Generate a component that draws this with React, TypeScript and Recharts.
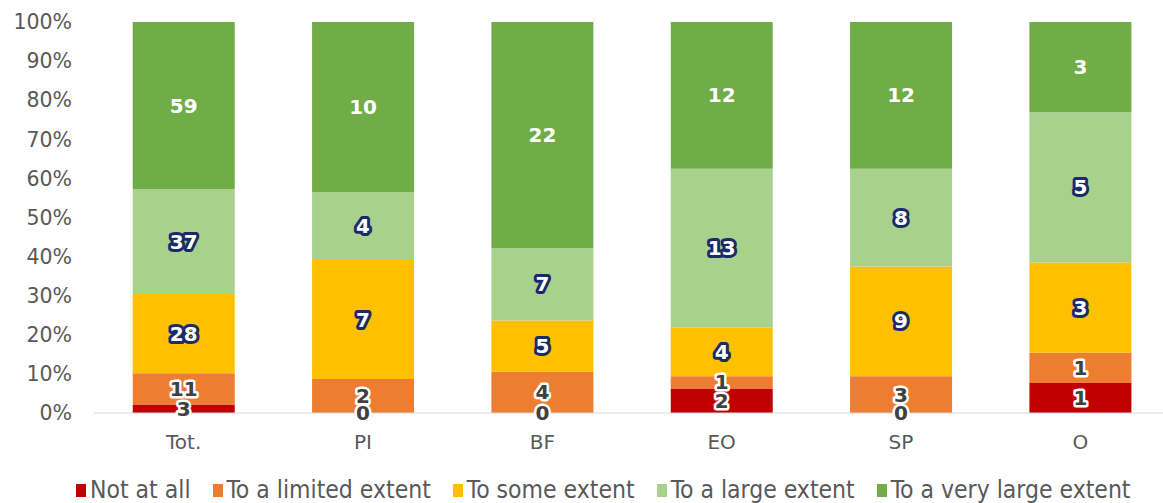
import React from "react";
import { Bar, BarChart, Cell, LabelList, XAxis, YAxis } from "recharts";

const categories = ["Tot.", "PI", "BF", "EO", "SP", "O"];
const notAtAll = [3, 0, 0, 2, 0, 1];
const limitedExtent = [11, 2, 4, 1, 3, 1];
const someExtent = [28, 7, 5, 4, 9, 3];
const largeExtent = [37, 4, 7, 13, 8, 5];
const veryLargeExtent = [59, 10, 22, 12, 12, 3];
const yTicks = [0, 0.1, 0.2, 0.3, 0.4, 0.5, 0.6, 0.7, 0.8, 0.9, 1];

const series = [
  { key: "notAtAll", name: "Not at all", values: notAtAll, color: "#C00000", label: "grey" },
  { key: "limited", name: "To a limited extent", values: limitedExtent, color: "#ED7D31", label: "grey" },
  { key: "some", name: "To some extent", values: someExtent, color: "#FFC000", label: "navy" },
  { key: "large", name: "To a large extent", values: largeExtent, color: "#A9D18E", label: "navy" },
  { key: "veryLarge", name: "To a very large extent", values: veryLargeExtent, color: "#70AD47", label: "plain" },
];

const data = categories.map((c, i) => {
  const row: Record<string, string | number> = { category: c };
  series.forEach((s) => {
    row[s.key] = s.values[i];
  });
  return row;
});

const labelStyles: Record<string, { fill: string; stroke: string; strokeWidth: number }> = {
  grey: { fill: "#404040", stroke: "#ffffff", strokeWidth: 5 },
  navy: { fill: "#ffffff", stroke: "#1A2B66", strokeWidth: 6 },
  plain: { fill: "#ffffff", stroke: "none", strokeWidth: 0 },
};

const makeLabel = (kind: string) => (props: any) => {
  const { x, y, width, height, value } = props;
  const st = labelStyles[kind];
  return (
    <text
      x={Number(x) + Number(width) / 2}
      y={Number(y) + Number(height) / 2}
      textAnchor="middle"
      dominantBaseline="central"
      fontFamily="DejaVu Sans"
      fontWeight="bold"
      fontSize={20}
      fill={st.fill}
      stroke={st.stroke}
      strokeWidth={st.strokeWidth}
      strokeLinejoin="round"
      paintOrder="stroke"
    >
      {value}
    </text>
  );
};

// zero segments still need their "0" label, so give them a hairline, invisible bar
const zeroSize = (value: any) => (Number(Array.isArray(value) ? value[1] - value[0] : value) === 0 ? 1 : 0);

export default function App() {
  return (
    <div
      style={{
        position: "fixed",
        left: 0,
        top: 0,
        width: 1163,
        height: 503,
        overflow: "hidden",
        background: "#fff",
      }}
    >
      <BarChart
        width={1180}
        height={503}
        data={data}
        stackOffset="expand"
        barCategoryGap="21.6%"
        margin={{ top: 22, right: 10, left: 0, bottom: 60 }}
      >
        <XAxis
          dataKey="category"
          height={30}
          tickLine={false}
          axisLine={{ stroke: "#D9D9D9" }}
          tick={{ fill: "#595959", fontSize: 20, fontFamily: "DejaVu Sans" }}
          tickMargin={16}
        />
        <YAxis
          width={94}
          domain={[0, 1]}
          ticks={yTicks}
          axisLine={false}
          tickLine={false}
          tickMargin={16}
          tickFormatter={(v: number) => `${Math.round(v * 100)}%`}
          tick={{ fill: "#595959", fontSize: 20.5, fontFamily: "DejaVu Sans" }}
        />
        {series.map((s) => (
          <Bar
            key={s.key}
            dataKey={s.key}
            name={s.name}
            stackId="a"
            fill={s.color}
            minPointSize={zeroSize}
            isAnimationActive={false}
          >
            {s.values.map((v, i) => (
              <Cell key={i} fill={s.color} fillOpacity={v === 0 ? 0 : 1} />
            ))}
            <LabelList dataKey={s.key} content={makeLabel(s.label)} />
          </Bar>
        ))}
      </BarChart>
      <div
        style={{
          position: "absolute",
          left: 76,
          top: 478,
          height: 24,
          lineHeight: "24px",
          display: "flex",
          alignItems: "center",
          fontFamily: "DejaVu Sans Condensed",
          fontSize: 24.5,
          color: "#595959",
          whiteSpace: "nowrap",
        }}
      >
        {series.map((s) => (
          <div key={s.key} style={{ display: "flex", alignItems: "center", marginRight: 22 }}>
            <span style={{ width: 10, height: 13, background: s.color, marginRight: 4, display: "inline-block" }} />
            <span>{s.name}</span>
          </div>
        ))}
      </div>
    </div>
  );
}
